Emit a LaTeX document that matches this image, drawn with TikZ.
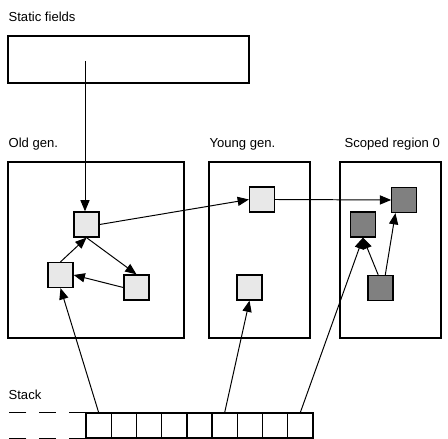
\documentclass[tikz,border=0pt]{standalone}
\usepackage{fontspec}
\setmainfont{Liberation Sans}
\usetikzlibrary{arrows.meta}
\definecolor{objlight}{HTML}{E8E8E8}
\definecolor{objdark}{HTML}{808080}
\begin{document}
\begin{tikzpicture}[x=0.025cm,y=0.025cm,line width=0.9pt,
  region/.style={draw,inner sep=0,minimum height=4.4cm},
  obj/.style={draw,fill=objlight,inner sep=0,minimum size=0.625cm},
  hot/.style={obj,fill=objdark},
  cell/.style={draw,inner sep=0,minimum width=0.63cm,minimum height=0.625cm},
  lbl/.style={anchor=base west,inner sep=0,font=\fontsize{9.3}{11}\selectfont},
  ref/.style={line width=0.7pt,-{Triangle[length=8pt,width=6.5pt]}}]
\useasboundingbox (0,0) rectangle (448,439);
\node[lbl] (lsf) at (8,417) {Static fields};
\node[region,minimum width=6.025cm,minimum height=1.175cm] (sf) at (128.5,379.5) {};
\coordinate (sfp) at (85,378);
\node[lbl] (lold) at (8,291) {Old gen.};
\node[lbl] (lyoung) at (209,291) {Young gen.};
\node[lbl] (lscoped) at (344,291) {Scoped region 0};
\node[region,minimum width=4.4cm] (old) at (96,189) {};
\node[region,minimum width=2.525cm] (young) at (259.5,189) {};
\node[region,minimum width=2.525cm] (scoped) at (390.5,189) {};
\node[obj] (o1) at (86.5,214.5) {};
\node[obj] (o2) at (60.5,164) {};
\node[obj] (o3) at (136.5,151.5) {};
\node[obj] (y1) at (262,239.5) {};
\node[obj] (y2) at (249.5,151.5) {};
\node[hot] (s1) at (404.3,239) {};
\node[hot] (s2) at (363,214.5) {};
\node[hot] (s3) at (380.5,151) {};
\node[lbl] (lstack) at (8,39) {Stack};
\foreach \i in {1,...,9}
  \node[cell] (c\i) at ({86+25.22*(\i-0.5)},13.5) {};
\draw[dash pattern=on 12pt off 9pt] (c1.north west) -- ++(-78,0);
\draw[dash pattern=on 12pt off 9pt] (c1.south west) -- ++(-78,0);
\draw[ref] (sfp) -- (sfp |- o1.north);
\draw[ref] (o2.north) -- (o1.south);
\draw[ref] (o1.south) -- (o3.north);
\draw[ref] (o3.west) -- (o2.east);
\draw[ref] (o1.east) -- (y1.west);
\draw[ref] (y1.east) -- (s1.west);
\draw[ref] (c1.north) -- (o2.south);
\draw[ref] (c6.north) -- (y2.south);
\draw[ref] (c9.north) -- (s2.south);
\draw[ref] (s3.100) -- (s2.south);
\draw[ref] (s3.70) -- (s1.-124);
\end{tikzpicture}
\end{document}
